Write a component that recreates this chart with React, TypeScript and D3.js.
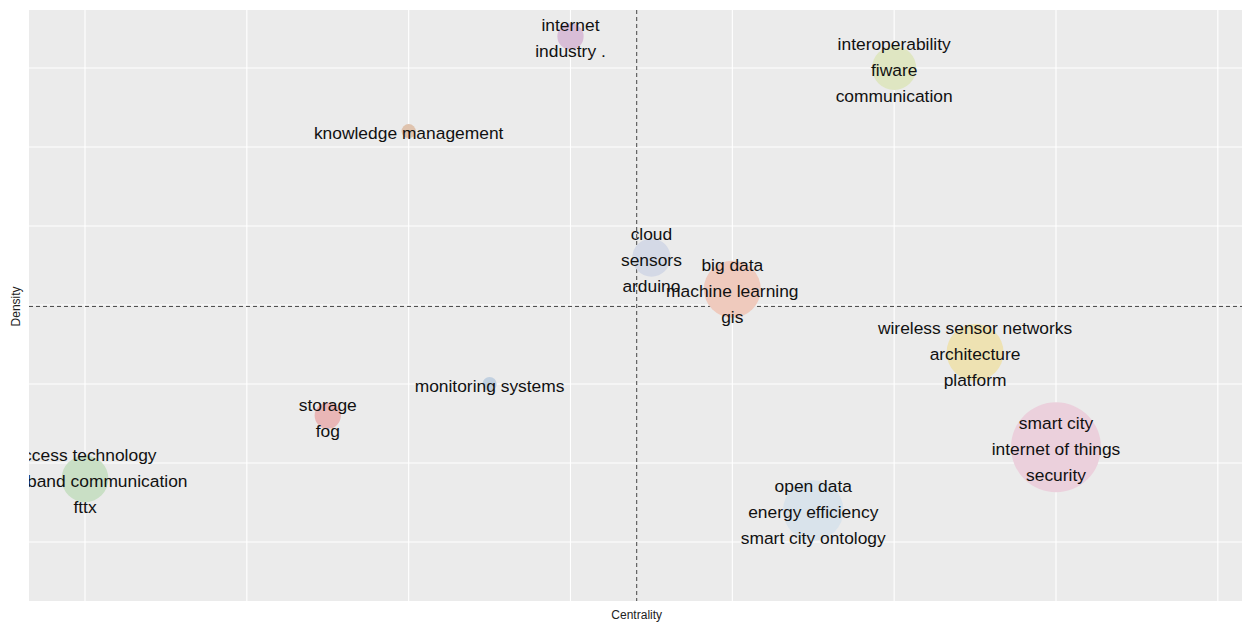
import { scaleLinear, mean, range } from "d3";

// thematic map clusters (rank-based centrality/density)
const clusterNames = [
  ["internet", "industry ."],
  ["knowledge management"],
  ["interoperability", "fiware", "communication"],
  ["cloud", "sensors", "arduino"],
  ["big data", "machine learning", "gis"],
  ["wireless sensor networks", "architecture", "platform"],
  ["monitoring systems"],
  ["storage", "fog"],
  ["smart city", "internet of things", "security"],
  ["access technology", "broadband communication", "fttx"],
  ["open data", "energy efficiency", "smart city ontology"],
];
const centrality = [4, 3, 6, 4.5, 5, 6.5, 3.5, 2.5, 7, 1, 5.5];
const density = [16, 13, 15, 9, 8, 6, 5, 4, 3, 2, 1];
const freq = [85, 25, 240, 180, 400, 400, 25, 85, 1000, 270, 450];
const colors = [
  "#d8bdd7", "#dfc3ae", "#dfe6c2", "#d4d9e6", "#efcabd", "#eee2b2",
  "#c1d0e0", "#e9b6b6", "#ebd0dc", "#c9dfc5", "#d9e3eb",
];

export default function App() {
  const width = 1242;
  const height = 623;
  const panel = { left: 29, top: 10, right: 1242, bottom: 601 };

  const x = scaleLinear().domain([1, 7]).range([85, 1056]);
  const y = scaleLinear().domain([0, 15]).range([542, 68]);
  const r = scaleLinear().domain([0, 1000]).range([0, 45 * 45]);

  const xGrid = range(0, 9, 1);
  const yGrid = range(-5, 20, 2.5);
  const xMean = mean(centrality) as number;
  const yMean = mean(density) as number;
  const lineH = 26;

  return (
    <svg width={width} height={height} style={{ position: "absolute", left: 0, top: 0 }}>
      <defs>
        <clipPath id="panel">
          <rect x={panel.left} y={panel.top} width={panel.right - panel.left} height={panel.bottom - panel.top} />
        </clipPath>
      </defs>
      <rect width={width} height={height} fill="#fff" />
      <g clipPath="url(#panel)">
        <rect x={panel.left} y={panel.top} width={panel.right - panel.left} height={panel.bottom - panel.top} fill="#ebebeb" />
        {xGrid.map((v) => (
          <line key={"x" + v} x1={x(v)} x2={x(v)} y1={panel.top} y2={panel.bottom} stroke="#fff" strokeWidth={1.1} />
        ))}
        {yGrid.map((v) => (
          <line key={"y" + v} y1={y(v)} y2={y(v)} x1={panel.left} x2={panel.right} stroke="#fff" strokeWidth={1.1} />
        ))}
        <line x1={x(xMean)} x2={x(xMean)} y1={panel.top} y2={panel.bottom} stroke="#444" strokeWidth={1} strokeDasharray="4,3" />
        <line y1={y(yMean)} y2={y(yMean)} x1={panel.left} x2={panel.right} stroke="#444" strokeWidth={1} strokeDasharray="4,3" />
        {clusterNames.map((names, i) => (
          <circle key={"c" + i} cx={x(centrality[i])} cy={y(density[i])} r={Math.sqrt(r(freq[i]))} fill={colors[i]} />
        ))}
        {clusterNames.map((names, i) => (
          <g key={"t" + i}>
            {names.map((n, j) => (
              <text
                key={j}
                x={x(centrality[i])}
                y={y(density[i]) + (j - (names.length - 1) / 2) * lineH + 2}
                textAnchor="middle"
                dominantBaseline="central"
                fontFamily="Liberation Sans, Arial, sans-serif"
                fontSize={17.4}
                fill="#111"
              >
                {n}
              </text>
            ))}
          </g>
        ))}
      </g>
      <text x={x(xMean)} y={619} textAnchor="middle" fontFamily="Liberation Sans, Arial, sans-serif" fontSize={12} fill="#222">
        Centrality
      </text>
      <text
        transform={`translate(20,${y(yMean)}) rotate(-90)`}
        textAnchor="middle"
        fontFamily="Liberation Sans, Arial, sans-serif"
        fontSize={12}
        fill="#222"
      >
        Density
      </text>
    </svg>
  );
}
